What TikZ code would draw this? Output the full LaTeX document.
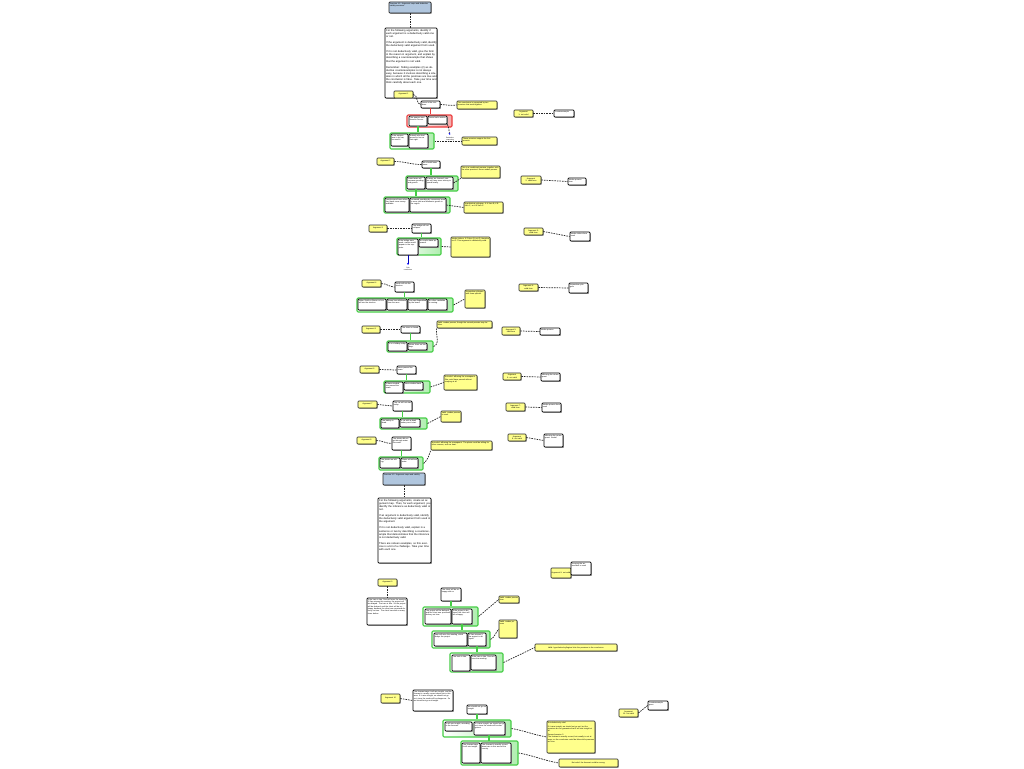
\documentclass[tikz,border=0pt]{standalone}
\usepackage{fontspec}
\setmainfont{Liberation Sans}
\usetikzlibrary{shadows,arrows.meta,calc}
\definecolor{ylw}{RGB}{255,255,140}
\definecolor{blu}{RGB}{176,198,222}
\definecolor{grn}{RGB}{70,205,70}
\definecolor{lgrn}{RGB}{175,238,175}
\definecolor{rd}{RGB}{235,60,60}
\definecolor{lrd}{RGB}{245,170,170}
\newcommand\mybox[8][]{%
 \pgfmathsetmacro\mbx{(#4+#6)/2}%
 \pgfmathsetmacro\mby{(#5+#7)/2}%
 \pgfmathsetmacro\mbw{#6-#4}%
 \pgfmathsetmacro\mbh{#7-#5}%
 \pgfmathsetmacro\mbt{#6-#4-1.4}%
 \node[#2,minimum width=\mbw pt,minimum height=\mbh pt] (#3) at (\mbx,\mby) {};
 \node[txt,#1,text width=\mbt pt,anchor=north west] at (#4,#5) {#8};}
\newcommand\mylab[6]{%
 \pgfmathsetmacro\mbx{(#2+#4)/2}%
 \pgfmathsetmacro\mby{(#3+#5)/2}%
 \pgfmathsetmacro\mbw{#4-#2}%
 \pgfmathsetmacro\mbh{#5-#3}%
 \pgfmathsetmacro\mbt{#4-#2-1.4}%
 \node[ybox,txt,align=center,minimum width=\mbw pt,minimum height=\mbh pt,text width=\mbt pt] (#1) at (\mbx,\mby) {#6};}
\tikzset{
 txt/.style={inner sep=0.7pt, font=\fontsize{1.9}{2.3}\selectfont, align=left},
 bigtxt/.style={font=\fontsize{2.6}{3.15}\selectfont, inner xsep=1pt, inner ysep=1.2pt},
 wbox/.style={inner sep=0pt, rounded corners=0.8pt, draw=black, line width=0.7pt, fill=white, drop shadow={shadow xshift=0.9pt, shadow yshift=-0.9pt, fill=black!45, opacity=1}},
 ybox/.style={rounded corners=0.8pt, draw=black!85, line width=0.6pt, fill=ylw, drop shadow={shadow xshift=0.8pt, shadow yshift=-0.8pt, fill=black!40, opacity=1}},
 bbox/.style={inner sep=0pt, rounded corners=0.8pt, draw=black!85, line width=0.7pt, fill=blu, drop shadow={shadow xshift=0.8pt, shadow yshift=-0.8pt, fill=black!40, opacity=1}},
 grp/.style={inner sep=0pt, draw=grn, line width=1.1pt, rounded corners=1.2pt, left color=white, right color=lgrn},
 rgrp/.style={inner sep=0pt, draw=rd, line width=1.1pt, rounded corners=1.2pt, left color=white, right color=lrd},
 dl/.style={draw=black!85, dash pattern=on 1.6pt off 1pt, line width=0.7pt},
 gl/.style={draw=grn, line width=1.1pt},
 rl/.style={draw=rd, line width=1.1pt},
 tiny/.style={font=\fontsize{1.7}{2.1}\selectfont, align=center, inner sep=0pt}
}
\begin{document}
\begin{tikzpicture}[x=1pt,y=-1pt]
\fill[white] (0,0) rectangle (1024,768);
\useasboundingbox (0,0) rectangle (1024,768);
% ===== Section 1 =====
\mybox{bbox}{b1}{389}{2}{431}{13}{Exercise 4.1: Argument maps and deductive validity exercises}
\mybox[bigtxt]{wbox}{t1}{385}{28}{437}{98}{For the following arguments, identify if each argument is a deductively valid one or not.\\[2.8pt] If the argument is deductively valid, identify the deductively valid argument form used.\\[2.8pt] If it is not deductively valid, give the form in the reason in argument, and explain by describing a counterexample that shows that the argument is not valid.\\[2.8pt] Remember: finding examples (2) as deductive counterexamples is not always easy, because it involves describing a situation in which all the premises are true and the conclusion is false. Take your time and think carefully about each one.}
\draw[dl] (b1.south) -- (t1.north -| b1.south);
% Argument 1
\mylab{a1}{394}{91}{413}{98}{Argument 1}
\mybox{wbox}{c1}{421}{101}{440}{108}{Jones is the murderer.}
\mybox{ybox}{n1a}{457}{101}{497}{109}{This conclusion is supported by two premises that work together.}
\mybox{rgrp}{rg1}{407}{115}{452}{127}{}
\mybox{wbox}{p1a}{409}{116}{427}{126}{The weapon was found in his car.}
\mybox{wbox}{p1b}{428}{116}{447}{124}{Jones had a motive.}
\mybox{grp}{gg1}{390}{133}{434}{149}{}
\mybox{wbox}{p1c}{391}{134}{408}{146}{If the weapon was in his car, he used it.}
\mybox{wbox}{p1d}{409}{134}{428}{148}{Nobody else had access to his car that night.}
\mybox{ybox}{n1b}{462}{137}{497}{145}{These premises support the first premise.}
\draw[dl] (a1.east) to[out=0,in=180] (c1.west);
\draw[dl] (c1.east) to[out=0,in=190] (n1a.west);
\draw[rl] (c1.south) -- (c1.south |- rg1.north);
\draw[gl] (p1a.south) -- (p1a.south |- gg1.north);
\draw[dl] (gg1.east) -- (n1b.west);
\coordinate (ba1) at (450,135);
\draw[dl,-{Stealth[length=2.2pt,width=2pt,color=blue]}] (p1b.south east) to[out=-60,in=110] (ba1);
\node[tiny] (bt1) at (450,140) {Deductive\\reasoning\\here};
\mylab{r1}{514}{110}{533}{117}{Argument 1: not valid}
\mybox{wbox}{r1w}{554}{110}{574}{117}{Counterexample}
\draw[dl] (r1.east) -- (r1w.west);
% Argument 2
\mylab{a2}{377}{158}{394}{165}{Argument 2}
\mybox{wbox}{c2}{422}{161}{440}{168}{We should lower taxes.}
\mybox{grp}{gg2}{406}{176}{458}{191}{}
\mybox{wbox}{p2a}{407}{177}{425}{189}{Lower taxes will increase spending and growth.}
\mybox{wbox}{p2b}{426}{177}{453}{189}{If taxes are lowered, people will have more money to spend locally.}
\mybox{ybox}{n2a}{461}{166}{500}{178}{This is a conditional premise; together with the other premise it forms modus ponens.}
\mybox{grp}{gg3}{384}{197}{450}{213}{}
\mybox{wbox}{p2c}{385}{198}{409}{212}{People spend more when they have more money available.}
\mybox{wbox}{p2d}{410}{198}{446}{212}{Increased spending by consumers leads to more jobs and economic growth in the region.}
\mybox{ybox}{n2b}{464}{202}{503}{213}{Hypothetical syllogism: if A then B, if B then C, so if A then C.}
\draw[dl] (a2.east) to[out=0,in=180] (c2.west);
\draw[gl] (c2.south) -- (c2.south |- gg2.north);
\draw[dl] (p2b.east) to[out=30,in=220] (n2a.south west);
\draw[gl] (p2a.south) -- (p2a.south |- gg3.north);
\draw[dl] (p2d.east) -- (n2b.west);
\mylab{r2}{521}{176}{541}{184}{Argument 2: valid form}
\mybox{wbox}{r2w}{568}{178}{586}{185}{Modus ponens form}
\draw[dl] (r2.east) -- (r2w.west);
% Argument 3
\mylab{a3}{369}{225}{387}{232}{Argument 3}
\mybox{wbox}{c3}{412}{224}{431}{233}{The bridge will not collapse.}
\mybox{grp}{gg4}{397}{238}{441}{255}{}
\mybox{wbox}{p3a}{398}{239}{418}{255}{If the bridge were weak, cracks would appear in the supports.}
\mybox{wbox}{p3b}{419}{239}{438}{247}{No cracks have appeared.}
\mybox{ybox}{n3}{451}{237}{490}{257}{Modus tollens: if P then Q; not Q; therefore not P. This argument is deductively valid.}
\draw[dl] (a3.east) -- (c3.west);
\draw[gl] (c3.south) -- (c3.south |- gg4.north);
\draw[dl] (gg4.east) -- (n3.west);
\coordinate (ba3) at (408,265);
\draw[draw=blue!70!black,line width=0.5pt,-{Stealth[length=2pt,width=2pt,color=blue]}] (p3a.south -| ba3) -- (ba3);
\node[tiny] (bt3) at (408,269) {Sub\\conclusion};
\mylab{r3}{524}{228}{543}{235}{Argument 3: valid form}
\mybox{wbox}{r3w}{570}{232}{590}{241}{Modus tollens form used}
\draw[dl] (r3.east) -- (r3w.west);
% Argument 4
\mylab{a4}{362}{280}{381}{287}{Argument 4}
\mybox{wbox}{c4}{395}{282}{414}{292}{Smith will win the election.}
\mybox{grp}{gg5}{357}{298}{453}{312}{}
\mybox{wbox}{p4a}{358}{299}{386}{310}{Either Smith or Brown or Lee will win the election.}
\mybox{wbox}{p4b}{387}{299}{407}{310}{Brown has withdrawn from the race.}
\mybox{wbox}{p4c}{408}{299}{427}{310}{Lee was disqualified by the board.}
\mybox{wbox}{p4d}{428}{299}{447}{310}{No other candidate is running.}
\mybox{ybox}{n4}{465}{290}{485}{308}{Disjunctive syllogism with three options.}
\draw[dl] (a4.east) to[out=0,in=180] (c4.west);
\draw[gl] (c4.south) -- (c4.south |- gg5.north);
\draw[dl] (gg5.east) -- (n4.west);
\mylab{r4}{519}{284}{538}{291}{Argument 4: valid form}
\mybox{wbox}{r4w}{569}{283}{588}{293}{Disjunctive syllogism}
\draw[dl] (r4.east) -- (r4w.west);
% Argument 5
\mylab{a5}{362}{326}{380}{333}{Argument 5}
\mybox{wbox}{c5}{401}{326}{420}{333}{The store is closed.}
\mybox{grp}{gg6}{387}{341}{433}{352}{}
\mybox{wbox}{p5a}{388}{342}{407}{351}{It is a holiday today.}
\mybox{wbox}{p5b}{408}{343}{427}{350}{Stores close on holidays.}
\mybox{ybox}{n5}{437}{321}{492}{328}{Valid: modus ponens, though the second premise may be false.}
\draw[dl] (a5.east) -- (c5.west);
\draw[gl] (c5.south) -- (c5.south |- gg6.north);
\draw[dl] (gg6.east) to[out=20,in=260] (n5.south west);
\mylab{r5}{502}{327}{520}{335}{Argument 5: valid form}
\mybox{wbox}{r5w}{540}{328}{560}{335}{Modus ponens}
\draw[dl] (r5.east) -- (r5w.west);
% Argument 6
\mylab{a6}{360}{366}{379}{373}{Argument 6}
\mybox{wbox}{c6}{397}{366}{416}{374}{Maria passed the exam.}
\mybox{grp}{gg7}{384}{381}{430}{393}{}
\mybox{wbox}{p6a}{385}{382}{403}{393}{If Maria studied, she passed the exam.}
\mybox{wbox}{p6b}{404}{382}{423}{390}{Maria studied hard.}
\mybox{ybox}{n6}{444}{375}{477}{390}{Not valid: affirming the consequent.\\[0.6pt] She could have passed without studying at all.}
\draw[dl] (a6.east) -- (c6.west);
\draw[gl] (c6.south) -- (c6.south |- gg7.north);
\draw[dl] (gg7.east) -- (n6.west);
\mylab{r6}{503}{373}{521}{380}{Argument 6: not valid}
\mybox{wbox}{r6w}{541}{373}{560}{381}{Affirming the consequent}
\draw[dl] (r6.east) -- (r6w.west);
% Argument 7
\mylab{a7}{358}{401}{377}{408}{Argument 7}
\mybox{wbox}{c7}{393}{401}{412}{411}{The car will not start today.}
\mybox{grp}{gg8}{380}{418}{427}{429}{}
\mybox{wbox}{p7a}{381}{419}{399}{428}{The battery is dead.}
\mybox{wbox}{p7b}{400}{419}{420}{427}{A car with a dead battery won't start.}
\mybox{ybox}{n7}{441}{411}{461}{422}{Valid: modus ponens is used.}
\draw[dl] (a7.east) -- (c7.west);
\draw[gl] (c7.south) -- (c7.south |- gg8.north);
\draw[dl] (gg8.east) -- (n7.west);
\mylab{r7}{506}{403}{525}{411}{Argument 7: valid form}
\mybox{wbox}{r7w}{542}{403}{561}{412}{Modus ponens form used}
\draw[dl] (r7.east) -- (r7w.west);
% Argument 8
\mylab{a8}{357}{437}{376}{444}{Argument 8}
\mybox{wbox}{c8}{392}{437}{411}{450}{The plants did not get enough water this week.}
\mybox{grp}{gg9}{379}{457}{423}{470}{}
\mybox{wbox}{p8a}{380}{458}{400}{468}{The plants are wilting.}
\mybox{wbox}{p8b}{401}{458}{418}{468}{Plants wilt without water.}
\mybox{ybox}{n8}{431}{441}{492}{450}{Not valid: affirming the consequent. The plants could be wilting for other reasons, such as heat.}
\draw[dl] (a8.east) to[out=0,in=180] (c8.west);
\draw[gl] (c8.south) -- (c8.south |- gg9.north);
\draw[dl] (gg9.east) to[out=40,in=250] (n8.south west);
\mylab{r8}{508}{434}{526}{441}{Argument 8: not valid}
\mybox{wbox}{r8w}{544}{434}{563}{447}{Affirming the consequent: invalid}
\draw[dl] (r8.east) -- (r8w.west);
% ===== Section 2 =====
\mybox{bbox}{b2}{383}{473}{425}{485}{Exercise 4.2: Argument maps and validity}
\mybox[bigtxt]{wbox}{t2}{378}{498}{431}{563}{For the following arguments, create an argument map. Then, for each argument, you identify the inference as deductively valid or not.\\[2.8pt] If an argument is deductively valid, identify the deductively valid argument form used in the argument.\\[2.8pt] If it is not deductively valid, explain in a sentence or two by describing a counterexample that demonstrates that the inference is not deductively valid.\\[2.8pt] There are sixteen examples, so this exercise is a bit of a challenge. Take your time with each one.}
\draw[dl] (b2.south) -- (t2.north -| b2.south);
\mylab{r9}{551}{568}{571}{578}{Argument 9: not valid}
\mybox{wbox}{r9w}{571}{562}{591}{575}{Denying the antecedent is used}
% Argument 9
\mylab{a9}{378}{579}{397}{586}{Argument 9}
\mybox{wbox}{t9}{367}{598}{407}{625}{If the train is late, Sam will miss the meeting. If Sam misses the meeting, the project will be delayed. The train is late. So the project will be delayed, and the client will be unhappy, because the client was promised delivery on time. The client has said so many times before.}
\draw[dl] (a9.south) -- (t9.north -| a9.south);
\mybox{wbox}{c9}{441}{588}{461}{601}{The client will be unhappy with us.}
\mybox{grp}{gg10}{423}{607}{478}{626}{}
\mybox{wbox}{p9a}{425}{609}{451}{624}{The project will be delayed, and the client was promised delivery on time.}
\mybox{wbox}{p9b}{452}{609}{472}{624}{If the project is delayed, the client will be unhappy.}
\mybox{ybox}{n9a}{499}{596}{519}{603}{Valid: modus ponens form}
\mybox{grp}{gg11}{432}{631}{490}{648}{}
\mybox{wbox}{p9c}{434}{633}{467}{646}{Sam will miss the meeting, which delays the project.}
\mybox{wbox}{p9d}{468}{633}{486}{646}{If Sam misses it, the project is delayed.}
\mybox{ybox}{n9b}{499}{620}{517}{638}{Valid: modus ponens}
\mybox{grp}{gg12}{450}{653}{503}{672}{}
\mybox{wbox}{p9e}{452}{655}{470}{671}{The train is late.}
\mybox{wbox}{p9f}{471}{655}{496}{670}{If the train is late, Sam will miss the meeting.}
\mylab{n9c}{535}{644}{617}{651}{Valid: hypothetical syllogism links the premises to the conclusion.}
\draw[gl] (c9.south) -- (c9.south |- gg10.north);
\draw[dl] (gg10.east) -- (n9a.west);
\draw[gl] (p9b.south) -- (p9b.south |- gg11.north);
\draw[dl] (gg11.east) to[out=30,in=230] (n9b.west);
\draw[gl] (p9d.south) -- (p9d.south |- gg12.north);
\draw[dl] (gg12.east) -- (n9c.west);
% Argument 10
\mylab{a10}{381}{694}{400}{703}{Argument 10}
\mybox{wbox}{t10}{413}{690}{453}{711}{The forecast says it will rain tonight, and the forecast is usually correct about rain in this area. If it rains tonight, we should not go out, since the roads will be dangerous. So we should not go out tonight.}
\draw[dl] (a10.east) -- (t10.west);
\mybox{wbox}{c10}{467}{705}{487}{714}{We should not go out tonight.}
\mybox{grp}{gg13}{443}{720}{511}{737}{}
\mybox{wbox}{p10a}{445}{722}{472}{731}{It will rain tonight, according to the forecast.}
\mybox{wbox}{p10b}{474}{722}{505}{735}{If it rains tonight, we should not go out, since the roads will be dangerous.}
\mybox{ybox}{n10a}{547}{721}{595}{753}{Not deductively valid.\\[1.5pt] If it rains tonight, we should not go out, but the premises do not guarantee that it will rain tonight at all.\\[1.5pt] Second premise 2:\\ The forecast is usually correct, but usually is not always, so the conclusion could be false while premises are true.}
\mybox{grp}{gg14}{461}{741}{518}{765}{}
\mybox{wbox}{p10c}{462}{743}{480}{763}{The forecast says it will rain tonight.}
\mybox{wbox}{p10d}{481}{743}{511}{763}{The forecast is usually correct about rain in this area of the country.}
\mylab{n10b}{559}{759}{618}{767}{Not valid: the forecast could be wrong.}
\draw[gl] (c10.south) -- (c10.south |- gg13.north);
\draw[dl] (gg13.east) to[out=-10,in=170] (n10a.west);
\coordinate (g14top) at (489,741);
\draw[gl] (p10b.south -| g14top) -- (g14top);
\draw[dl] (gg14.east) to[out=-10,in=170] (n10b.west);
\mylab{r10}{619}{709}{638}{717}{Argument 10: not valid}
\mybox{wbox}{r10w}{648}{701}{668}{710}{Counterexample given}
\draw[dl] (r10.east) -- (r10w.west);
\end{tikzpicture}
\end{document}
